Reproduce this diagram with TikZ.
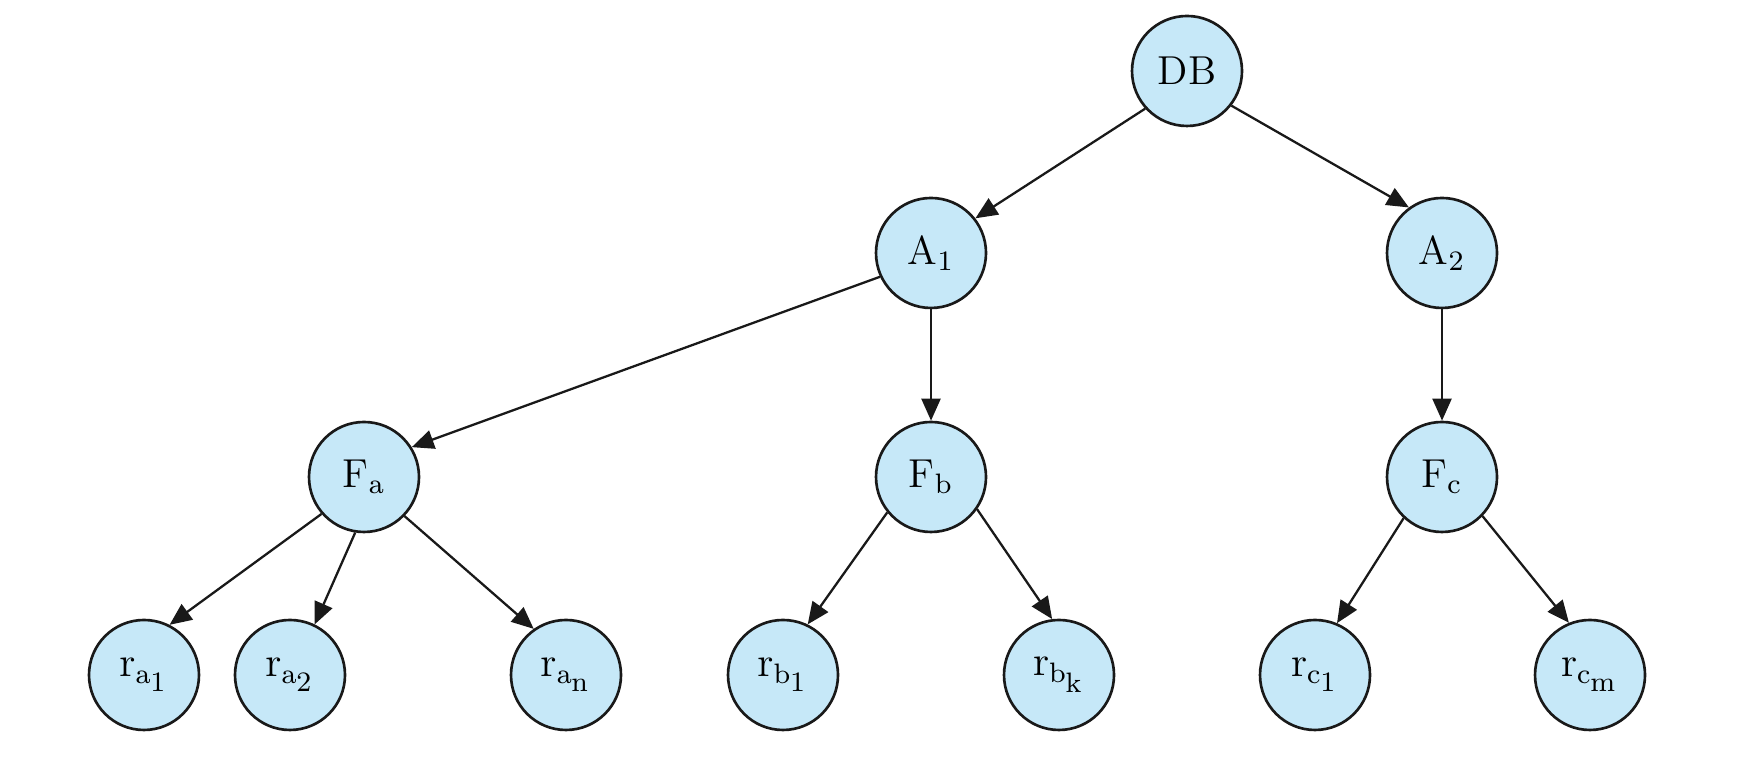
\documentclass[tikz,border=0pt]{standalone}
\usepackage{xcolor}
\usepackage{tikz}
\usetikzlibrary{arrows.meta}
\definecolor{trblue}{HTML}{C6E8F8}
\newcommand{\leafsub}[2]{$\mathrm{r}_{\mathrm{#1}_{\scriptstyle\mathrm{#2}\vphantom{1}}}$}
\tikzset{
  trnode/.style={circle, fill=trblue, draw=black!90, line width=0.75pt, minimum size=1.1cm, inner sep=0pt, font=\fontsize{11.5}{13}\selectfont},
  trarrow/.style={line width=0.65pt, draw=black!90, -{Triangle[length=2.2mm, width=1.9mm]}},
}
\begin{document}
\begin{tikzpicture}
\useasboundingbox (0,0) rectangle (17.39,7.72);
\node[trnode] (db) at (11.87,7.01) {DB};
\node[trnode] (a1) at (9.31,5.19) {A$_1$};
\node[trnode] (a2) at (14.42,5.19) {A$_2$};
\node[trnode] (fa) at (3.64,2.95) {F$_{\mathrm{a}}$};
\node[trnode] (fb) at (9.31,2.95) {F$_{\mathrm{b}}$};
\node[trnode] (fc) at (14.42,2.95) {F$_{\mathrm{c}}$};
\node[trnode] (ra1) at (1.44,0.97) {\leafsub{a}{1}};
\node[trnode] (ra2) at (2.90,0.97) {\leafsub{a}{2}};
\node[trnode] (ran) at (5.66,0.97) {\leafsub{a}{n}};
\node[trnode] (rb1) at (7.83,0.97) {\leafsub{b}{1}};
\node[trnode] (rbk) at (10.59,0.97) {\leafsub{b}{k}};
\node[trnode] (rc1) at (13.15,0.97) {\leafsub{c}{1}};
\node[trnode] (rcm) at (15.90,0.97) {\leafsub{c}{m}};
% edges leave and enter at fixed angles, as in the drawing
\draw[trarrow] (db.222) -- (a1.38);
\draw[trarrow] (db.322) -- (a2.126);
\draw[trarrow] (a1.205) -- (fa.32);
\draw[trarrow] (a1.south) -- (fb.north);
\draw[trarrow] (a2.south) -- (fc.north);
\draw[trarrow] (fa.221) -- (ra1.63);
\draw[trarrow] (fa.261) -- (ra2.64);
\draw[trarrow] (fa.316) -- (ran.125);
\draw[trarrow] (fb.219) -- (rb1.64);
\draw[trarrow] (fb.325) -- (rbk.97);
\draw[trarrow] (fc.227) -- (rc1.67);
\draw[trarrow] (fc.316) -- (rcm.112);
\end{tikzpicture}
\end{document}
